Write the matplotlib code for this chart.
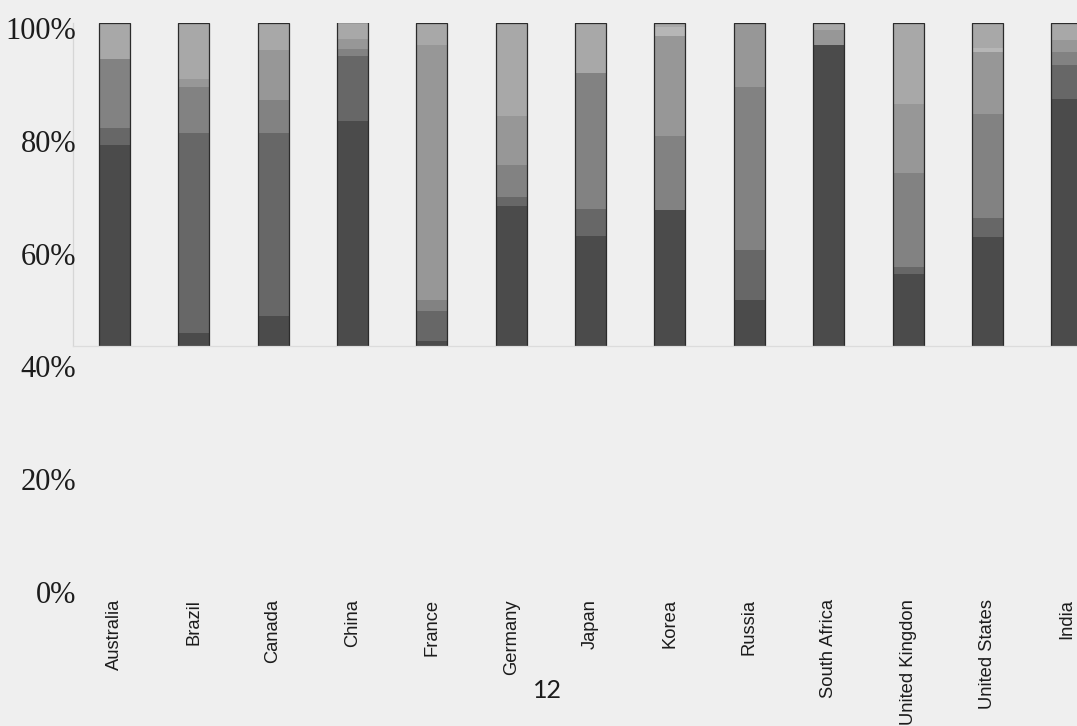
import numpy as np
import matplotlib
matplotlib.use("Agg")
import matplotlib.pyplot as plt

countries = ["Australia", "Brazil", "Canada", "China", "France", "Germany", "Japan",
             "Korea", "Russia", "South Africa", "United Kingdon", "United States", "India"]
coal    = [62.1, 3.9, 9.2, 69.8, 1.5, 43.2, 34.0, 42.1, 14.3, 93.1, 22.4, 33.6, 76.5]
hydro   = [5.4, 61.9, 56.6, 19.9, 9.3, 2.8, 8.5, 0.0, 15.3, 0.0, 2.1, 5.9, 10.3]
gas     = [21.2, 14.2, 10.3, 2.3, 3.6, 10.1, 42.0, 23.2, 50.6, 0.0, 29.3, 32.2, 4.1]
nuclear = [0.0, 2.6, 15.5, 3.1, 78.9, 14.9, 0.0, 31.0, 19.4, 4.6, 21.6, 19.3, 3.6]
oil     = [0.0, 0.0, 0.0, 0.0, 0.0, 0.0, 0.0, 2.6, 0.4, 0.0, 0.0, 1.0, 0.0]
other   = [11.4, 17.4, 8.5, 5.1, 6.9, 29.0, 15.6, 1.5, 0.0, 2.3, 25.2, 8.0, 5.5]
y_ticks = [0, 20, 40, 60, 80, 100]
y_tick_labels = ["0%", "20%", "40%", "60%", "80%", "100%"]
page_number = "12"

series = [coal, hydro, gas, nuclear, oil, other]
colors = ["#4b4b4b", "#676767", "#828282", "#979797", "#b6b6b6", "#a8a8a8"]

W, H = 1077, 726
bg = "#efefef"
fig = plt.figure(figsize=(W / 100, H / 100), dpi=100, facecolor=bg)

# bar axes (pixel layout)
top_px, bot_px, left_px = 22.5, 346.0, 73.0
ax = fig.add_axes([left_px / W, 1 - bot_px / H, (W - left_px) / W, (bot_px - top_px) / H])
ax.set_facecolor("none")

data = np.array(series, dtype=float)
totals = data.sum(axis=0)
shares = data / totals * 100
x = np.arange(len(countries))
width = 0.39
bottom = np.zeros(len(countries))
for vals, c in zip(shares, colors):
    ax.bar(x, vals, width, bottom=bottom, color=c, edgecolor="none")
    bottom += vals
ax.bar(x, bottom, width, fill=False, edgecolor="#2b2b2b", linewidth=0.9)

ax.set_xlim(-0.52, (W - 114) / 79.4)
ax.set_ylim(0, 100)
ax.set_yticks([])
for s in ["top", "right"]:
    ax.spines[s].set_visible(False)
ax.spines["left"].set_color("#d6d6d6")
ax.spines["left"].set_linewidth(0.9)
ax.spines["bottom"].set_color("#dcdcdc")
ax.spines["bottom"].set_linewidth(0.9)
ax.set_xticks(x)
ax.set_xticklabels(countries, rotation=90, fontfamily="Liberation Sans",
                   fontsize=13.2, color="#1c1c1c")
ax.tick_params(axis="x", length=0, pad=(599 - bot_px) * 72 / 100)

# y label axes
ax2 = fig.add_axes([0, 1 - 592 / H, 76 / W, 564 / H])
ax2.set_facecolor("none")
ax2.set_ylim(0, 100)
ax2.set_xticks([])
ax2.yaxis.tick_right()
ax2.set_yticks(y_ticks)
ax2.set_yticklabels(y_tick_labels, fontfamily="Liberation Serif", fontsize=22, color="#1c1c1c")
ax2.tick_params(axis="y", length=0, pad=0, labelright=True, labelleft=False)
for s in ax2.spines.values():
    s.set_visible(False)
for t in ax2.get_yticklabels():
    t.set_horizontalalignment("right")

fig.text(547 / W, 1 - 690 / H, page_number, fontfamily="Lato", fontsize=18,
         color="#1c1c1c", ha="center", va="center")

fig.savefig("out.png", dpi=100, facecolor=bg)
